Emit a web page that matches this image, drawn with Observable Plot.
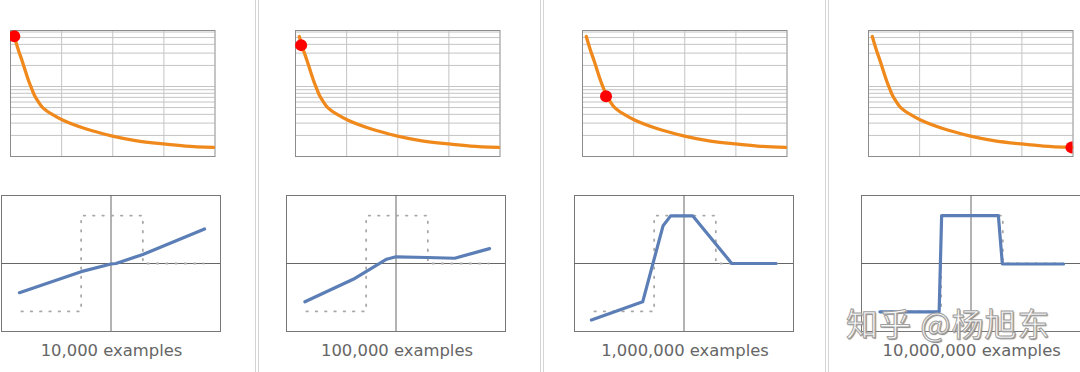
<!DOCTYPE html>
<html><head><meta charset="utf-8">
<script src="https://cdn.jsdelivr.net/npm/d3@7"></script>
<script src="https://cdn.jsdelivr.net/npm/@observablehq/plot@0.6"></script>
<style>
body{margin:0;background:#fff;}
#root{position:relative;width:1080px;height:372px;overflow:hidden;font-family:"DejaVu Sans",Verdana,sans-serif;}
.sep{position:absolute;top:0;width:1px;height:372px;background:#d4d4d4;}
.lbl{position:absolute;width:240px;text-align:center;font-size:16.4px;line-height:16.4px;color:#666;white-space:nowrap;}
.wm{position:absolute;font-family:"Noto Sans CJK SC",sans-serif;font-size:32px;line-height:32px;letter-spacing:1px;color:#fafafa;-webkit-text-stroke:1px #a0a0a0;text-shadow:1px 1px 1px #808080;white-space:nowrap;}
</style></head><body><div id="root"></div>
<script>
// ---- data ----
const lossStep  = [0.074, 0.157, 0.225, 0.288, 0.352, 0.417, 0.47, 0.548, 0.607, 0.685, 0.808, 1.018, 1.468, 1.996, 2.446, 2.994, 3.425, 3.973];
const lossValue = [51.8, 32.7, 23.5, 16.9, 12.2, 9.21, 7.44, 6.0, 5.21, 4.62, 4.02, 3.32, 2.49, 1.96, 1.69, 1.51, 1.41, 1.35];
const markerStep = [0.074, 0.11, 0.46, 3.97];
const markerLoss = [52.3, 39.0, 7.27, 1.35];
const lossGridTicks = [2, 3, 4, 5, 6, 7, 8, 9, 10, 20, 30, 40, 50, 60];
const stepGridTicks = [1, 2, 3];
const panelLabels = ["10,000 examples", "100,000 examples", "1,000,000 examples", "10,000,000 examples"];
const targetX = [-0.9, -0.3, -0.3, 0.32, 0.32, 0.93];
const targetY = [-1, -1, 1, 1, 0, 0];
const fit1X = [-0.92, -0.3, 0, 0.05, 0.32, 0.94];
const fit1Y = [-0.61, -0.17, -0.01, 0, 0.19, 0.72];
const fit2X = [-0.915, -0.43, -0.094, 0, 0.31, 0.59, 0.94];
const fit2Y = [-0.80, -0.33, 0.09, 0.14, 0.125, 0.11, 0.31];
const fit3X = [-0.93, -0.415, -0.21, -0.134, 0.087, 0.48, 0.925];
const fit3Y = [-1.18, -0.80, 0.79, 0.995, 0.995, 0.0, 0.0];
const fit4X = [-0.915, -0.32, -0.295, 0.275, 0.315, 0.93];
const fit4Y = [-1.01, -1.01, 1.0, 1.0, -0.01, -0.01];
const watermark = "知乎 @杨旭东";

// ---- layout ----
const fitsX = [fit1X, fit2X, fit3X, fit4X];
const fitsY = [fit1Y, fit2Y, fit3Y, fit4Y];
const topLeft = [9.5, 295.3, 581.7, 867.7];
const botLeft = [0.5, 286, 574, 860.7];
const sepX = [255, 540, 825];
const root = document.getElementById("root");
const M = 8;

const loss = lossStep.map((s, i) => ({s, v: lossValue[i]}));
const target = targetX.map((x, i) => ({x, y: targetY[i]}));

function place(el, left, top) {
  el.style.position = "absolute";
  el.style.left = left + "px";
  el.style.top = top + "px";
  root.appendChild(el);
}

for (let i = 0; i < 4; i++) {
  const topPlot = Plot.plot({
    width: 204.5 + 2 * M, height: 126 + 2 * M, margin: M,
    style: {background: "transparent", overflow: "visible"},
    x: {domain: [0, 4], axis: null},
    y: {type: "log", domain: [1, 63.1], axis: null},
    marks: [
      Plot.gridY(lossGridTicks, {stroke: "#c4c4c4", strokeOpacity: 1}),
      Plot.gridX(stepGridTicks, {stroke: "#c4c4c4", strokeOpacity: 1}),
      Plot.frame({stroke: "#8c8c8c"}),
      Plot.line(loss, {x: "s", y: "v", stroke: "#f0891c", strokeWidth: 3.3, curve: "catmull-rom"}),
      Plot.dot([{s: markerStep[i], v: markerLoss[i]}], {x: "s", y: "v", r: 6, fill: "#ff0000", stroke: "none", clip: true})
    ]
  });
  place(topPlot, topLeft[i] - M, 30 - M);

  const fit = fitsX[i].map((x, k) => ({x, y: fitsY[i][k]}));
  const botPlot = Plot.plot({
    width: 219 + 2 * M, height: 136 + 2 * M, margin: M,
    style: {background: "transparent", overflow: "visible"},
    x: {domain: [-1.1, 1.1], axis: null},
    y: {domain: [-1.42, 1.42], axis: null},
    marks: [
      Plot.frame({stroke: "#777"}),
      Plot.ruleX([0], {stroke: "#666"}),
      Plot.ruleY([0], {stroke: "#666"}),
      Plot.line(target, {x: "x", y: "y", stroke: "#a8a8a8", strokeWidth: 1.8, strokeDasharray: "1.5,7.8"}),
      Plot.line(fit, {x: "x", y: "y", stroke: "#5b7eb6", strokeWidth: 3.2, clip: true})
    ]
  });
  place(botPlot, botLeft[i] - M, 195 - M);

  const lbl = document.createElement("div");
  lbl.className = "lbl";
  lbl.textContent = panelLabels[i];
  place(lbl, botLeft[i] + 111 - 120, 343);
}

for (const x of sepX) {
  const a = document.createElement("div"); a.className = "sep"; place(a, x, 0);
  const b = document.createElement("div"); b.className = "sep"; place(b, x + 2.5, 0);
}

const wm = document.createElement("div");
wm.className = "wm";
wm.textContent = watermark;
place(wm, 846, 306);
</script>
</body></html>
